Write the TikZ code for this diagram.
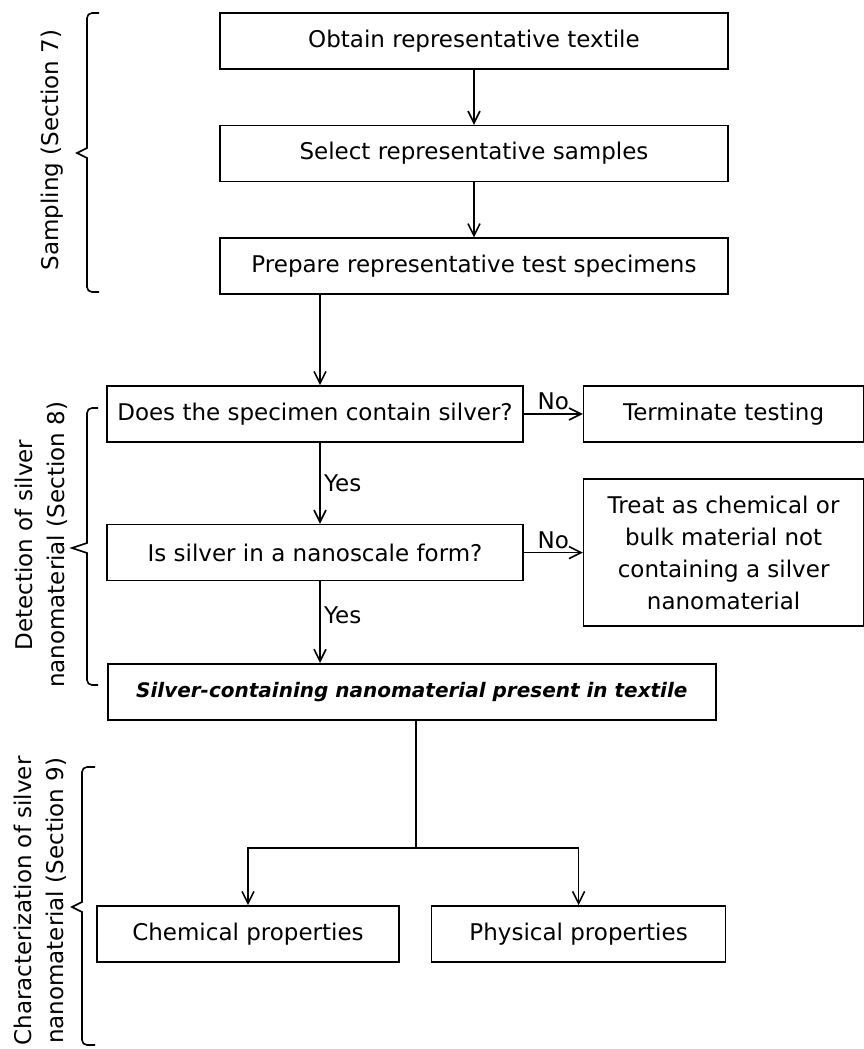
\documentclass[tikz,border=0pt]{standalone}
\usepackage{fontspec}
\setmainfont{DejaVu Sans}
\usetikzlibrary{arrows.meta, positioning}

\begin{document}
\begin{tikzpicture}[x=1pt, y=-1pt, line width=1.6pt,
        >={Straight Barb[length=12pt,width=12pt]},
        font=\fontsize{23}{32}\selectfont,
        stepbox/.style={draw, minimum height=56pt, align=center},
        bracket/.style={line width=1.6pt},
        seclabel/.style={rotate=90, align=center}]
    \useasboundingbox (0,0) rectangle (864,1049);
    % sampling
    \node[stepbox, minimum width=508pt] (obtain) at (474,41) {Obtain representative textile};
    \node[stepbox, minimum width=508pt, below=55pt of obtain] (select) {Select representative samples};
    \node[stepbox, minimum width=508pt, below=55pt of select] (prepare) {Prepare representative test specimens};
    % detection
    \node[stepbox, minimum width=416pt] (contain) at (315,414) {Does the specimen contain silver?};
    \node[stepbox, minimum width=416pt, below=81pt of contain] (nano) {Is silver in a nanoscale form?};
    \node[stepbox, minimum width=280pt, right=59pt of contain] (terminate) {Terminate testing};
    \node[stepbox, minimum width=280pt, minimum height=147pt, right=59pt of nano] (treat) {Treat as chemical or\\ bulk material not\\ containing a silver\\ nanomaterial};
    \node[stepbox, minimum width=608pt, anchor=north west] (present) at (107,663) {\fontsize{20}{24}\selectfont\bfseries\itshape Silver-containing nanomaterial present in textile};
    % characterization
    \node[stepbox, minimum width=302pt] (chem) at (248,934) {Chemical properties};
    \node[stepbox, minimum width=294pt, right=31pt of chem] (phys) {Physical properties};
    \coordinate (trunk) at (320,0);
    \coordinate (split) at (416,848);

    \path[->] (obtain) edge (select)
        (select) edge (prepare)
        (prepare.south -| trunk) edge (contain.north -| trunk)
        (contain.south -| trunk) edge node[right] {Yes} (nano.north -| trunk)
        (nano.south -| trunk) edge node[right, pos=0.42] {Yes} (present.north -| trunk)
        (contain) edge node[above] {No} (terminate)
        (nano) edge node[above] {No} (treat);
    \draw (present.south -| split) -- (split);
    \draw[->] (split) -| (chem);
    \draw[->] (split) -| (phys);

    % section brackets
    \draw[bracket] (99,13) [rounded corners=5pt] -- (87,13) -- (87,100) [sharp corners] -- (87,148) -- (77,153) -- (87,158) [rounded corners=5pt] -- (87,292) -- (99,292);
    \draw[bracket] (98,408) [rounded corners=5pt] -- (87,408) -- (87,500) [sharp corners] -- (87,543) -- (72,548) -- (87,553) [rounded corners=5pt] -- (87,685) -- (98,685);
    \draw[bracket] (95,767) [rounded corners=5pt] -- (82,767) -- (82,860) [sharp corners] -- (82,902) -- (72,907) -- (82,912) [rounded corners=5pt] -- (82,1045) -- (95,1045);
    \node[seclabel] (samplab) at (52,150) {Sampling (Section 7)};
    \node[seclabel] (detlab) at (41,545) {Detection of silver\\ nanomaterial (Section 8)};
    \node[seclabel] (charlab) at (40,901) {Characterization of silver\\ nanomaterial (Section 9)};
\end{tikzpicture}
\end{document}
